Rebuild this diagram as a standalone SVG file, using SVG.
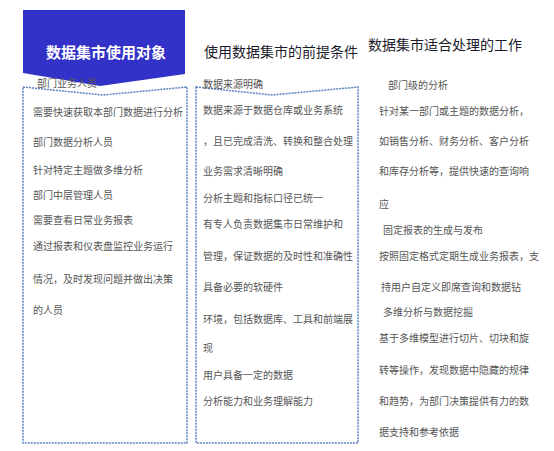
<svg xmlns="http://www.w3.org/2000/svg" width="554" height="451" viewBox="0 0 554 451">
<style>
.box{fill:#fff;stroke:#5a80c0;stroke-width:1.5;stroke-dasharray:2 1}
.hd{font-family:"Noto Sans CJK SC","Noto Sans",sans-serif;font-size:14px;fill:#1a1a2a}
.t{font-family:"Noto Sans CJK SC","Noto Sans",sans-serif;font-size:10px;fill:#555}
</style>
<rect width="554" height="451" fill="#fff"/>
<g id="connectors"></g>
<g id="col1">
<path class="box" d="M23,87 L103,95 L187,87 L187,443 L23,443 Z"/>
<path d="M23,10 L185,10 L185,74 L100,86 L23,73 Z" fill="#3232c8"/>
<text x="106" y="58" text-anchor="middle" font-family="Noto Sans CJK SC, sans-serif" font-size="15" font-weight="bold" fill="#fff">数据集市使用对象</text>
<text class="t" x="37" y="87">部门业务人员</text>
<text class="t" x="33" y="116">需要快速获取本部门数据进行分析</text>
<text class="t" x="33" y="146">部门数据分析人员</text>
<text class="t" x="33" y="174">针对特定主题做多维分析</text>
<text class="t" x="33" y="199">部门中层管理人员</text>
<text class="t" x="33" y="224">需要查看日常业务报表</text>
<text class="t" x="33" y="250">通过报表和仪表盘监控业务运行</text>
<text class="t" x="33" y="283">情况，及时发现问题并做出决策</text>
<text class="t" x="33" y="314">的人员</text>
</g>
<g id="col2">
<path class="box" d="M196,87 L272,95 L358,87 L358,443 L196,443 Z"/>
<text class="hd" x="281" y="57" text-anchor="middle">使用数据集市的前提条件</text>
<text class="t" x="203" y="88">数据来源明确</text>
<text class="t" x="203" y="114">数据来源于数据仓库或业务系统</text>
<text class="t" x="203" y="145">，且已完成清洗、转换和整合处理</text>
<text class="t" x="203" y="175">业务需求清晰明确</text>
<text class="t" x="203" y="202">分析主题和指标口径已统一</text>
<text class="t" x="203" y="228">有专人负责数据集市日常维护和</text>
<text class="t" x="203" y="260">管理，保证数据的及时性和准确性</text>
<text class="t" x="203" y="291">具备必要的软硬件</text>
<text class="t" x="203" y="323">环境，包括数据库、工具和前端展</text>
<text class="t" x="203" y="352">现</text>
<text class="t" x="203" y="379">用户具备一定的数据</text>
<text class="t" x="203" y="405">分析能力和业务理解能力</text>
</g>
<g id="col3">
<text class="hd" x="445" y="50" text-anchor="middle">数据集市适合处理的工作</text>
<text class="t" x="388" y="89">部门级的分析</text>
<text class="t" x="379" y="115">针对某一部门或主题的数据分析，</text>
<text class="t" x="379" y="145">如销售分析、财务分析、客户分析</text>
<text class="t" x="379" y="175">和库存分析等，提供快速的查询响</text>
<text class="t" x="379" y="208">应</text>
<text class="t" x="383" y="234">固定报表的生成与发布</text>
<text class="t" x="379" y="260">按照固定格式定期生成业务报表，支</text>
<text class="t" x="381" y="291">持用户自定义即席查询和数据钻</text>
<text class="t" x="383" y="316">多维分析与数据挖掘</text>
<text class="t" x="379" y="342">基于多维模型进行切片、切块和旋</text>
<text class="t" x="379" y="374">转等操作，发现数据中隐藏的规律</text>
<text class="t" x="379" y="405">和趋势，为部门决策提供有力的数</text>
<text class="t" x="379" y="436">据支持和参考依据</text>
</g>
</svg>
